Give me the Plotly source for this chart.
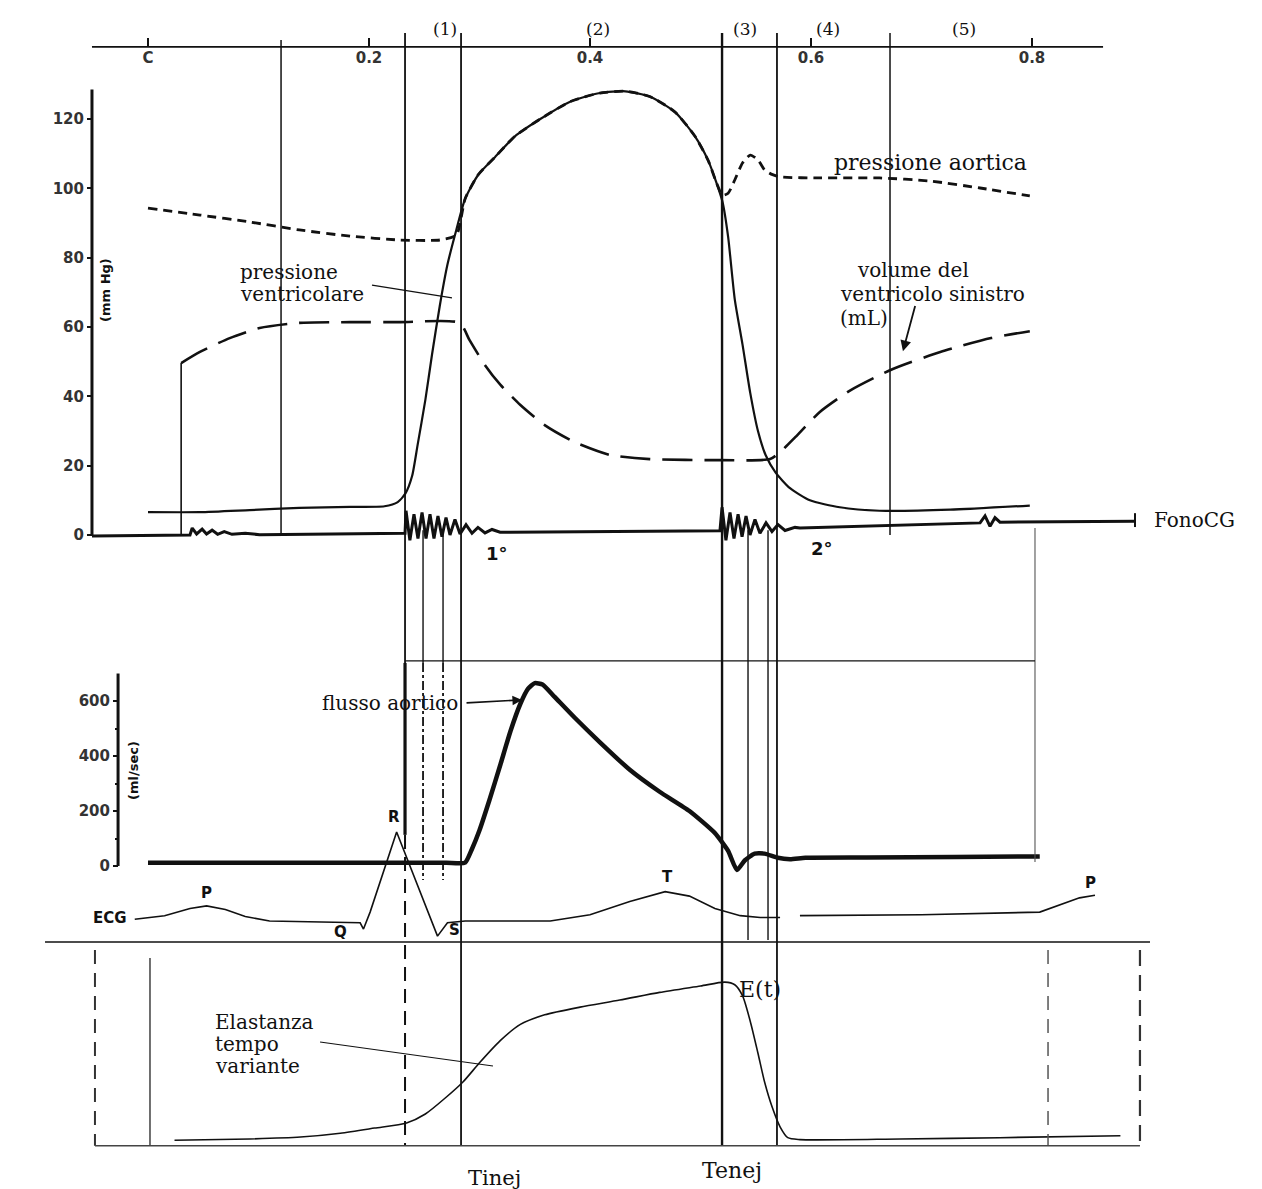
import plotly.graph_objects as go

# ---------------- data (time in s) ----------------
# left-ventricular pressure (mmHg)
t_lv = [0.0, 0.047, 0.092, 0.137, 0.183, 0.214, 0.226, 0.233, 0.239, 0.244, 0.251, 0.257, 0.264, 0.271,
        0.279, 0.287, 0.299, 0.314, 0.332, 0.355, 0.382, 0.409, 0.432, 0.454, 0.477, 0.495, 0.507, 0.514,
        0.520, 0.525, 0.531, 0.538, 0.545, 0.552, 0.559, 0.568, 0.581, 0.599, 0.626, 0.662, 0.726, 0.798]
p_lv = [6.6, 6.6, 7.2, 7.8, 8.1, 8.3, 9.5, 12, 17, 26, 39, 52, 66, 78,
        88, 97, 104, 109, 115, 120, 125, 127.5, 128, 126.5, 122, 115, 108, 102,
        96, 86, 68, 55, 41, 30, 23, 18, 13.5, 10, 8, 7, 7.3, 8.5]

# aortic pressure (mmHg)
t_ao = [0.0, 0.047, 0.092, 0.137, 0.183, 0.228, 0.264, 0.279, 0.287, 0.299, 0.314, 0.332, 0.355, 0.382,
        0.409, 0.432, 0.454, 0.477, 0.495, 0.507, 0.514, 0.520, 0.525, 0.531, 0.538, 0.545, 0.552, 0.558,
        0.564, 0.572, 0.608, 0.662, 0.708, 0.753, 0.798]
p_ao = [94.3, 92.3, 90.3, 88.0, 86.2, 85.1, 85.1, 86.5, 97, 104, 109, 115, 120, 125,
        127.5, 128, 126.5, 122, 115, 108, 102, 98, 98.6, 102.4, 107.3, 109.6, 108.2, 105.3,
        104.1, 103.3, 103.0, 103.0, 102.1, 100.1, 97.8]

# left-ventricular volume (drawn on the same scale)
t_vol = [0.030, 0.047, 0.074, 0.101, 0.137, 0.183, 0.228, 0.282, 0.291, 0.305, 0.319, 0.337,
         0.359, 0.386, 0.418, 0.454, 0.518, 0.563, 0.572, 0.586, 0.608, 0.636, 0.672, 0.717, 0.763, 0.798]
v_vol = [49.6, 52.8, 56.8, 59.7, 61.2, 61.4, 61.4, 61.2, 56.2, 49.0, 43.3, 37.5,
         31.7, 26.8, 23.1, 21.9, 21.6, 21.9, 23.9, 28.3, 35.5, 41.8, 47.6, 52.8, 56.8, 58.8]
t_vol_start = 0.030

# phonocardiogram trace (drawn on pressure baseline)
t_pcg = [-0.0507, 0.038, 0.040, 0.044, 0.049, 0.053, 0.058, 0.063, 0.069, 0.076, 0.088, 0.101, 0.2326,
         0.2335, 0.237, 0.2407, 0.2443, 0.248, 0.2516, 0.2552, 0.2588, 0.2624, 0.266, 0.2697, 0.2733,
         0.2778, 0.2824, 0.2878, 0.2932, 0.2986, 0.305, 0.3113, 0.3186, 0.3276, 0.5176,
         0.5195, 0.523, 0.5267, 0.5303, 0.534, 0.5376, 0.5412, 0.5448, 0.5493, 0.5538, 0.5593, 0.5647,
         0.5701, 0.5765, 0.5855, 0.59, 0.753, 0.7575, 0.762, 0.7665, 0.771, 0.8932]
v_pcg = [-0.3, 0.0, 2.0, 0.3, 1.7, 0.3, 1.4, 0.2, 1.0, 0.2, 0.5, 0.1, 0.5,
         7, -1.5, 6, -1, 6.5, -1, 6, -1, 5.5, -0.5, 5, 0,
         4.5, 0.3, 3.0, 0.5, 2.2, 0.6, 1.6, 0.8, 0.8, 1.2,
         8, -1.5, 6.5, -1, 6, -0.5, 5.5, 0, 4.5, 0.5, 3.5, 1,
         3, 1.3, 2.2, 2.0, 3.5, 5.5, 2.5, 5.0, 3.7, 4.0]

# aortic flow (ml/sec)
t_flow = [0.0, 0.100, 0.200, 0.270, 0.287, 0.293, 0.300, 0.309, 0.319, 0.328, 0.337, 0.344, 0.350, 0.357,
          0.368, 0.386, 0.409, 0.436, 0.463, 0.490, 0.513, 0.525, 0.533, 0.540, 0.549, 0.558, 0.570, 0.581,
          0.595, 0.650, 0.730, 0.807]
q_flow = [12, 12, 12, 12, 12, 60, 130, 240, 370, 490, 590, 645, 665, 660,
          615, 540, 450, 350, 270, 200, 120, 55, -15, 20, 45, 45, 30, 25,
          30, 31, 33, 35]

# ECG (mV)
t_ecg = [-0.012, 0.015, 0.038, 0.053, 0.070, 0.088, 0.110, 0.165, 0.192, 0.195, 0.201, 0.225, 0.262,
         0.271, 0.287, 0.364, 0.400, 0.436, 0.468, 0.490, 0.513, 0.536, 0.554, 0.572, None,
         0.590, 0.700, 0.807, 0.825, 0.843, 0.857]
v_ecg = [0.02, 0.06, 0.14, 0.17, 0.13, 0.05, 0.0, -0.01, -0.02, -0.09, 0.1, 1.0, -0.17,
         -0.02, 0.0, 0.0, 0.07, 0.22, 0.33, 0.28, 0.14, 0.06, 0.04, 0.04, None,
         0.06, 0.07, 0.1, 0.18, 0.26, 0.29]

# time-varying elastance (mmHg/mL)
t_el = [0.024, 0.092, 0.138, 0.174, 0.205, 0.234, 0.251, 0.269, 0.285, 0.300, 0.319, 0.337, 0.359,
        0.391, 0.427, 0.463, 0.500, 0.522, 0.531, 0.538, 0.545, 0.552, 0.558, 0.565, 0.572, 0.579,
        0.590, 0.681, 0.771, 0.880]
e_el = [0.09, 0.11, 0.14, 0.2, 0.28, 0.36, 0.5, 0.75, 1.0, 1.3, 1.65, 1.9, 2.05,
        2.17, 2.28, 2.4, 2.5, 2.56, 2.52, 2.35, 1.95, 1.45, 1.0, 0.6, 0.3, 0.13,
        0.1, 0.11, 0.13, 0.16]

# tick labels
time_ticks = [0, 0.2, 0.4, 0.6, 0.8]
time_ticktext = ["C", "0.2", "0.4", "0.6", "0.8"]
press_ticks = [0, 20, 40, 60, 80, 100, 120]
flow_ticks = [0, 200, 400, 600]

# event times (s)
t_a, t_R, t_b1, t_b2, t_inej = 0.1204, 0.2326, 0.2489, 0.2670, 0.2833
t_enej, t_c1, t_c2, t_d, t_e, t_f = 0.5195, 0.5430, 0.5611, 0.5692, 0.6715, 0.8027
t_el_left, t_el_0, t_el_p, t_el_right = -0.048, 0.0018, 0.8145, 0.8977

phase_labels = ["(1)", "(2)", "(3)", "(4)", "(5)"]
phase_label_t = [0.2688, 0.4072, 0.5403, 0.6154, 0.7385]

# ---------------- figure ----------------
INK = "#111111"
SERIF = "DejaVu Serif"
SANS = "DejaVu Sans"

fig = go.Figure()
fig.add_trace(go.Scatter(x=t_lv, y=p_lv, mode="lines", line=dict(color=INK, width=2.2, shape="spline", smoothing=0.6),
                         yaxis="y", name="pressione ventricolare"))
fig.add_trace(go.Scatter(x=t_ao, y=p_ao, mode="lines",
                         line=dict(color=INK, width=2.8, dash="9px,6px", shape="spline", smoothing=0.6),
                         yaxis="y", name="pressione aortica"))
fig.add_trace(go.Scatter(x=t_vol, y=v_vol, mode="lines",
                         line=dict(color=INK, width=2.6, dash="30px,12px", shape="spline", smoothing=0.6),
                         yaxis="y", name="volume"))
fig.add_trace(go.Scatter(x=t_pcg, y=v_pcg, mode="lines", line=dict(color=INK, width=3), yaxis="y",
                         name="FonoCG"))
fig.add_trace(go.Scatter(x=t_flow, y=q_flow, mode="lines",
                         line=dict(color=INK, width=4.5, shape="spline", smoothing=0.5), yaxis="y2",
                         name="flusso aortico"))
fig.add_trace(go.Scatter(x=t_ecg, y=v_ecg, mode="lines", line=dict(color=INK, width=1.6), yaxis="y3",
                         name="ECG", connectgaps=False))
fig.add_trace(go.Scatter(x=t_el, y=e_el, mode="lines",
                         line=dict(color=INK, width=1.6, shape="spline", smoothing=0.7), yaxis="y4",
                         name="E(t)"))

shapes = []


def vline(t, y0, y1, width=1.5, dash="solid", yref="y", color=INK):
    shapes.append(dict(type="line", xref="x", yref=yref, x0=t, x1=t, y0=y0, y1=y1,
                       line=dict(color=color, width=width, dash=dash)))


def hline(y, t0, t1, width=1.5, yref="y", color=INK, dash="solid"):
    shapes.append(dict(type="line", xref="x", yref=yref, x0=t0, x1=t1, y0=y, y1=y,
                       line=dict(color=color, width=width, dash=dash)))


# axis lines
vline(-0.0507, 0, 128.5, width=3)
vline(-0.0271, 0, 700, width=3, yref="y2")
hline(140.8, -0.0507, 0.8643, width=1.6)

# start of the volume trace
vline(t_vol_start, 0, v_vol[0], width=1.6)

# phase lines (pressure-scale units)
vline(t_a, 142.8, 0)
vline(t_R, 144.8, -36.9, width=1.8)
vline(t_R, -36.9, -86.5, width=3.2)
vline(t_R, -86.5, -176.2, width=2, dash="14px,8px")
for tb in (t_b1, t_b2):
    vline(tb, 1.4, -36.9, width=1.4)
    vline(tb, -36.9, -99.5, width=1.8, dash="dashdot")
vline(t_inej, 144.8, -176.2, width=1.8)
vline(t_enej, 144.8, -176.2, width=2.4)
for tc in (t_c1, t_c2):
    vline(tc, 1.4, -116.8, width=1.4)
vline(t_d, 144.8, -176.2, width=1.8)
vline(t_e, 144.8, 0, width=1.5)
vline(t_f, 2.0, -94.3, width=1.1, color="#555555")
vline(t_el_left, -119.7, -176.2, width=2, dash="14px,9px", color="#333333")
vline(t_el_0, -122.0, -176.2, width=1.2)
vline(t_el_p, -119.7, -176.2, width=1.5, dash="14px,9px", color="#555555")
vline(t_el_right, -119.7, -176.2, width=2.2, dash="16px,9px", color="#333333")
vline(0.8932, 6.3, 2.3, width=2)

hline(-36.3, t_R, t_f, width=1.2)
hline(-117.4, -0.0932, 0.9068, width=1.5)
hline(-176.2, t_el_left, t_el_right, width=1.5, color="#444444")

annotations = []


def text(t, y, s, size=20, yref="y", font=SERIF, xanchor="center", bold=False, angle=0):
    annotations.append(dict(x=t, y=y, xref="x", yref=yref, text=s, showarrow=False,
                            xanchor=xanchor, yanchor="middle", textangle=angle,
                            font=dict(family=font, size=size, color=INK,
                                      weight="bold" if bold else "normal")))


for lab, tl in zip(phase_labels, phase_label_t):
    text(tl, 146.0, lab, size=17)

text(0.7077, 107.6, "pressione aortica", size=22)
text(0.0814, 75.9, "pressione", size=20, xanchor="left")
text(0.0814, 69.5, "ventricolare", size=20, xanchor="left")
text(0.6398, 76.4, "volume del", size=20, xanchor="left")
text(0.6244, 69.5, "ventricolo sinistro", size=20, xanchor="left")
text(0.6244, 62.6, "(mL)", size=20, xanchor="left")
text(0.9475, 4.3, "FonoCG", size=20)
text(0.3158, -5.2, "1°", size=18, font=SANS, bold=True)
text(0.6100, -3.8, "2°", size=18, font=SANS, bold=True)
text(-0.038, 70.7, "(mm Hg)", size=13, font=SANS, bold=True, angle=-90)
text(-0.0136, 349, "(ml/sec)", size=13, font=SANS, bold=True, angle=-90, yref="y2")
text(0.2820, 593, "flusso aortico", size=20, yref="y2", xanchor="right")
text(-0.017, 0.03, "ECG", size=15, font=SANS, bold=True, yref="y3", xanchor="right")
for tl, yl, s in [(0.053, 0.31, "P"), (0.1738, -0.124, "Q"), (0.2226, 1.17, "R"), (0.2778, -0.10, "S"),
                  (0.4697, 0.49, "T"), (0.8525, 0.43, "P")]:
    text(tl, yl, s, size=15, font=SANS, bold=True, yref="y3")
text(0.0588, 1.9375, "Elastanza", size=20, yref="y4", xanchor="left")
text(0.0588, 1.594, "tempo", size=20, yref="y4", xanchor="left")
text(0.0588, 1.25, "variante", size=20, yref="y4", xanchor="left")
text(0.5538, 2.44, "E(t)", size=22, yref="y4")
text(0.3140, -0.50, "Tinej", size=21, yref="y4")
text(0.5285, -0.375, "Tenej", size=22, yref="y4")

# pointer lines
shapes.append(dict(type="line", xref="x", yref="y", x0=0.2027, y0=72.1, x1=0.2751, y1=68.4,
                   line=dict(color=INK, width=1.2)))
shapes.append(dict(type="line", xref="x", yref="y4", x0=0.1557, y0=1.625, x1=0.3122, y1=1.25,
                   line=dict(color=INK, width=1.2)))
annotations.append(dict(x=0.3385, y=604, xref="x", yref="y2", ax=0.2869, ay=593, axref="x", ayref="y2",
                        showarrow=True, arrowhead=2, arrowsize=1.2, arrowwidth=1.6, arrowcolor=INK, text=""))
annotations.append(dict(x=0.6832, y=53.0, xref="x", yref="y", ax=0.6946, ay=66.5, axref="x", ayref="y",
                        showarrow=True, arrowhead=2, arrowsize=1.2, arrowwidth=1.8, arrowcolor=INK, text=""))

fig.update_layout(
    width=1262, height=1189, margin=dict(l=0, r=0, t=0, b=0),
    paper_bgcolor="white", plot_bgcolor="white", showlegend=False,
    shapes=shapes, annotations=annotations,
    xaxis=dict(domain=[0, 1], range=[-0.13394, 1.00814], anchor="free", position=0.96047,
               side="bottom", tickvals=time_ticks, ticktext=time_ticktext, ticks="inside",
               ticklen=9, tickwidth=2, tickcolor=INK, showline=False, showgrid=False, zeroline=False,
               tickfont=dict(family=SANS, size=15, color="#333333", weight="bold")),
    yaxis=dict(domain=[0, 1], range=[-188.65, 154.33], anchor="free", position=0.0729,
               tickvals=press_ticks, ticks="outside", ticklen=5, tickwidth=2, tickcolor=INK,
               showline=False, showgrid=False, zeroline=False,
               tickfont=dict(family=SANS, size=15, color="#333333", weight="bold")),
    yaxis2=dict(domain=[0, 1], range=[-1174.5, 3149.1], anchor="free", position=0.0935, overlaying="y",
                tickvals=flow_ticks, ticks="outside", ticklen=5, tickwidth=2, tickcolor=INK,
                showline=False, showgrid=False, zeroline=False,
                minor=dict(tickvals=[100, 300, 500], ticks="outside", ticklen=3, tickcolor=INK),
                tickfont=dict(family=SANS, size=15, color="#333333", weight="bold")),
    yaxis3=dict(domain=[0, 1], range=[-3.011, 10.348], overlaying="y", visible=False, anchor="x"),
    yaxis4=dict(domain=[0, 1], range=[-0.6719, 17.906], overlaying="y", visible=False, anchor="x"),
)

fig.write_html("out.html")
